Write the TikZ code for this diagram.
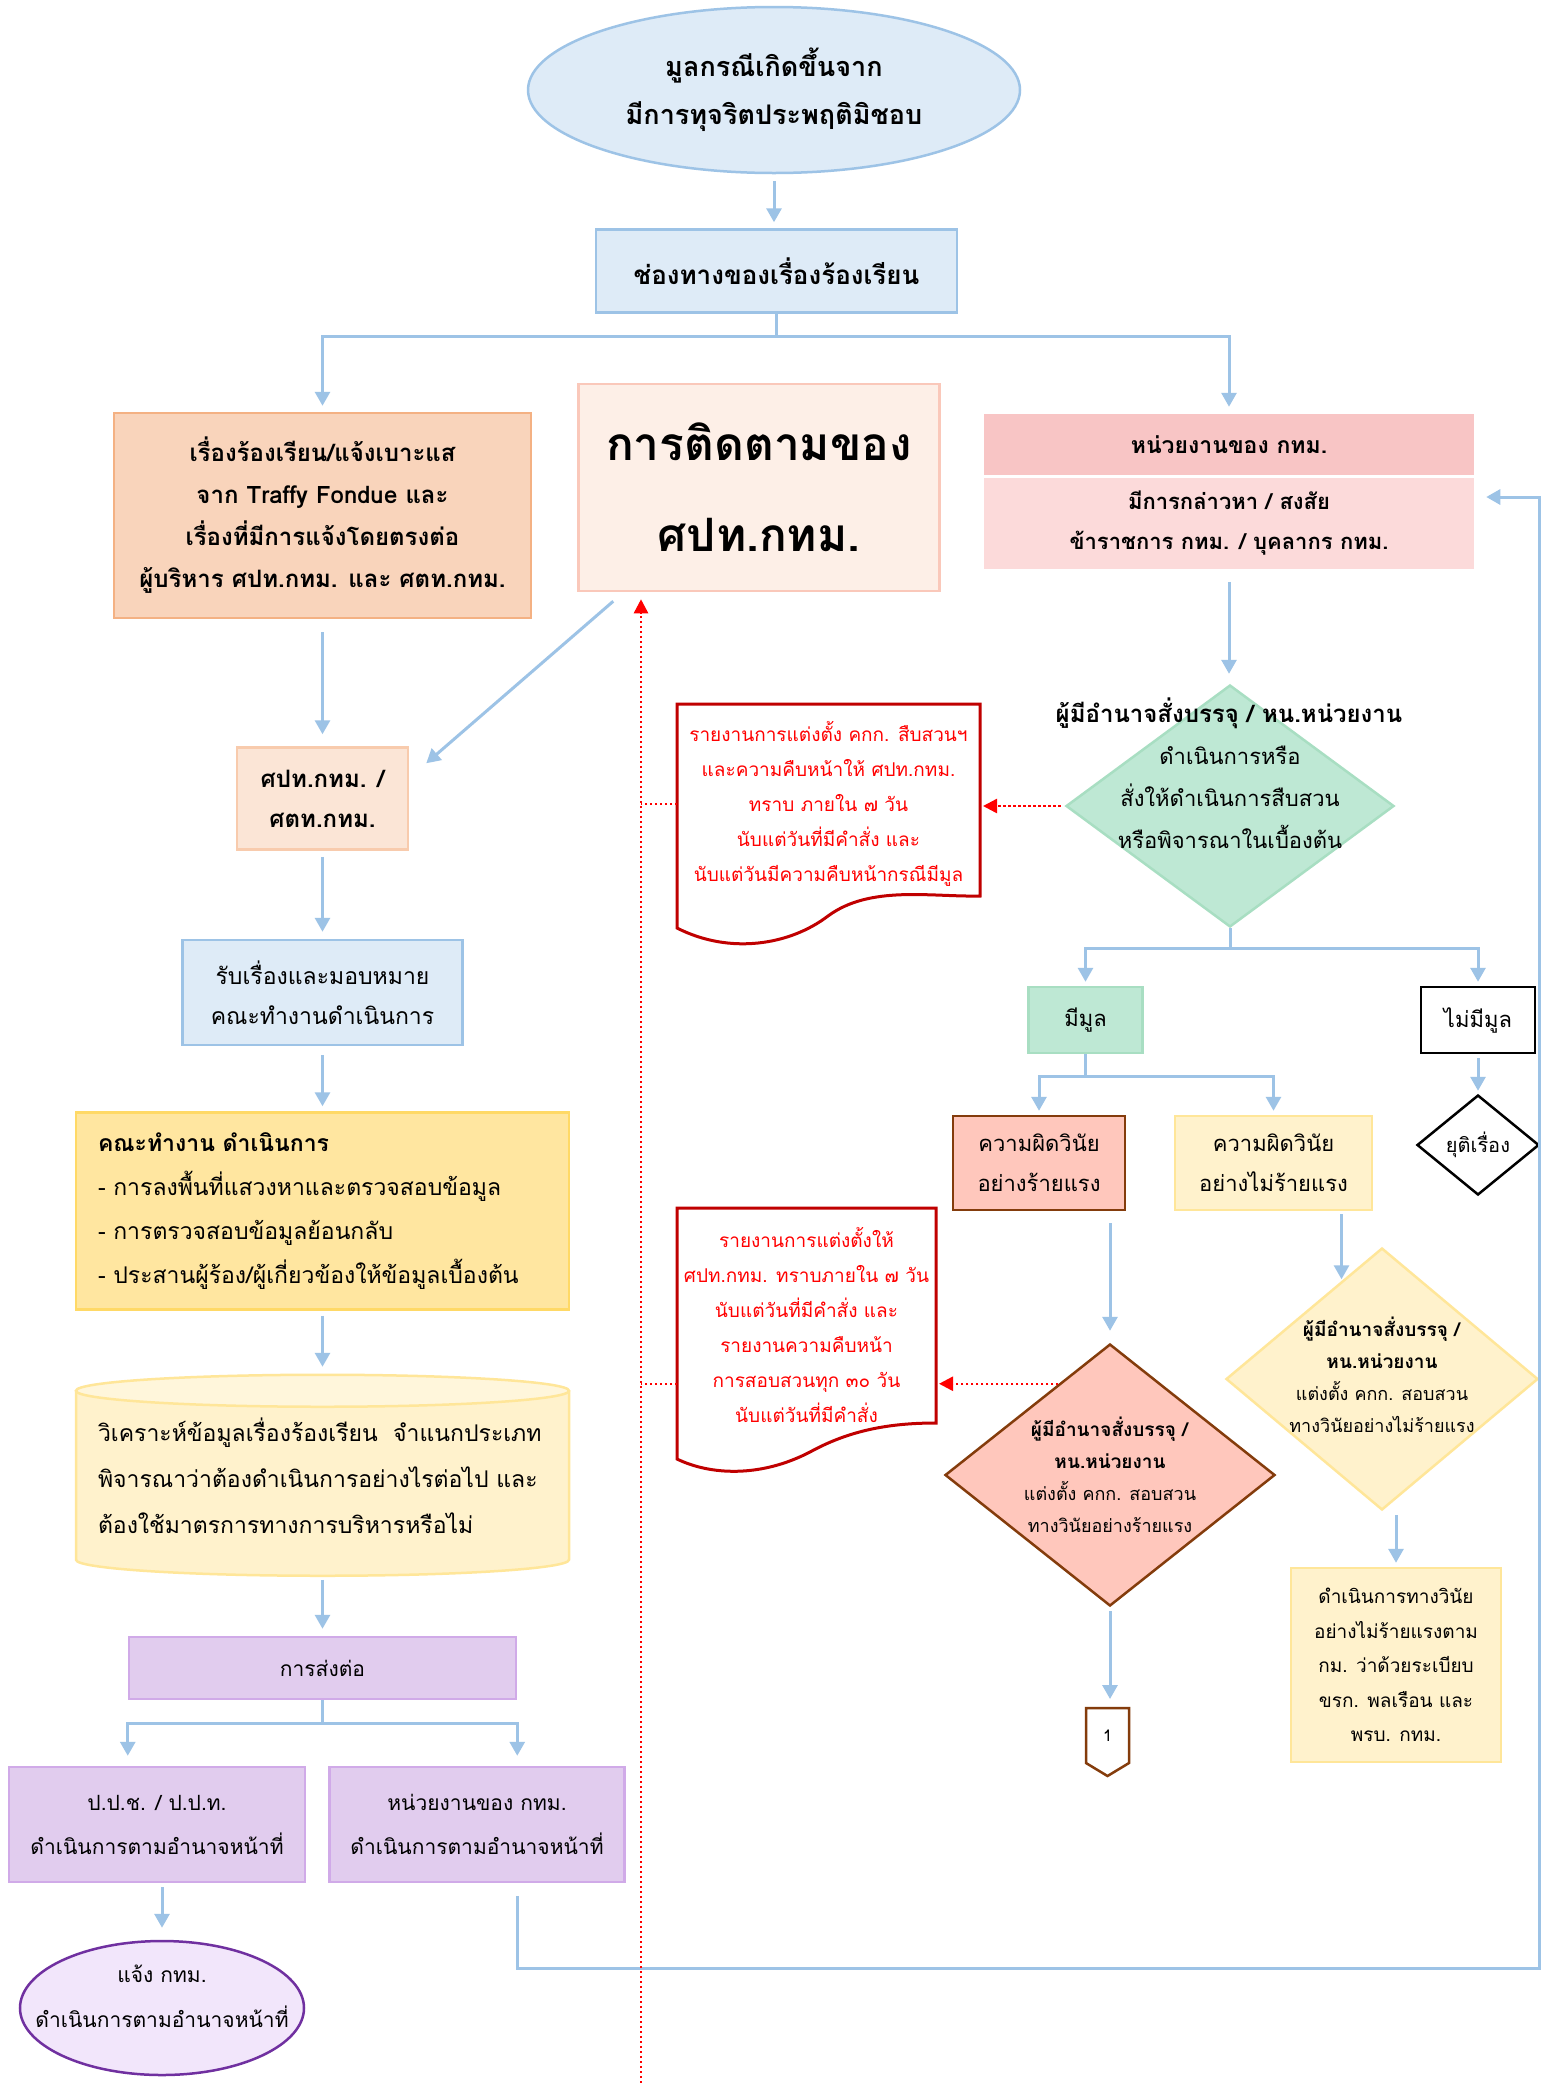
\documentclass[tikz,border=0pt]{standalone}
\usepackage{fontspec}
\setmainfont[Script=Thai]{Loma}
\usepackage{tikz}
\usetikzlibrary{shapes.geometric, arrows.meta, positioning, calc, backgrounds}
\definecolor{arrowblue}{RGB}{157,195,230}
\definecolor{skyfill}{RGB}{222,235,247}
\definecolor{peachfill}{RGB}{249,212,187}
\definecolor{peachline}{RGB}{244,177,131}
\definecolor{trackfill}{RGB}{253,239,231}
\definecolor{trackline}{RGB}{250,200,186}
\definecolor{socfill}{RGB}{251,229,214}
\definecolor{socline}{RGB}{248,203,173}
\definecolor{unithead}{RGB}{248,197,197}
\definecolor{unitbody}{RGB}{252,218,218}
\definecolor{mintfill}{RGB}{190,232,212}
\definecolor{mintline}{RGB}{168,222,194}
\definecolor{salmonfill}{RGB}{255,199,188}
\definecolor{brownline}{RGB}{132,60,12}
\definecolor{creamfill}{RGB}{255,242,204}
\definecolor{capfill}{RGB}{255,246,219}
\definecolor{creamline}{RGB}{255,230,153}
\definecolor{goldfill}{RGB}{255,230,160}
\definecolor{goldline}{RGB}{255,217,102}
\definecolor{lilacfill}{RGB}{225,204,238}
\definecolor{lilacline}{RGB}{208,170,232}
\definecolor{notifyfill}{RGB}{242,230,251}
\definecolor{notifyline}{RGB}{112,48,160}
\definecolor{docline}{RGB}{192,0,0}
\definecolor{doctext}{RGB}{255,0,0}
\newcommand{\fsz}[2]{\fontsize{#1}{#2}\selectfont}

\begin{document}
\begin{tikzpicture}[
    x=1pt, y=-1pt,
    box/.style={rectangle, draw, line width=2.5pt, align=center, inner sep=0pt},
    decision/.style={diamond, draw, line width=2.5pt, inner sep=0pt},
    arrow/.style={-{Triangle[width=15pt,length=14pt]}, line width=3pt, draw=arrowblue},
    link/.style={line width=3pt, draw=arrowblue},
    report/.style={-{Triangle[width=14pt,length=14pt]}, line width=2.5pt, draw=doctext, color=doctext, dash pattern=on 2.5pt off 2.5pt},
    reportline/.style={line width=2.5pt, draw=doctext, dash pattern=on 2.5pt off 2.5pt},
    doc/.style={rectangle, inner sep=0pt, outer sep=0pt, align=center, text=doctext, font=\fsz{19}{35}}
]
    \useasboundingbox (0,0) rectangle (1542,2083);
    \begin{scope}[on background layer]
        \fill[white] (0,0) rectangle (1542,2083);
    \end{scope}

    % top of the flow
    \node[ellipse, draw=arrowblue, fill=skyfill, line width=2.5pt, minimum width=492pt, minimum height=166pt, align=center, font=\fsz{27}{48}\bfseries] (origin) at (774,90) {มูลกรณีเกิดขึ้นจาก\\มีการทุจริตประพฤติมิชอบ};
    \node[box, draw=arrowblue, fill=skyfill, minimum width=361pt, minimum height=83pt, font=\fsz{26}{40}\bfseries] (chan) at (776.5,271) {ช่องทางของเรื่องร้องเรียน};

    % left column
    \node[box, draw=peachline, fill=peachfill, minimum width=417pt, minimum height=205pt, font=\fsz{24}{42}\bfseries] (complaint) at (322.5,515.5) {เรื่องร้องเรียน/แจ้งเบาะแส\\จาก Traffy Fondue และ\\เรื่องที่มีการแจ้งโดยตรงต่อ\\ผู้บริหาร ศปท.กทม. และ ศตท.กทม.};
    \node[box, draw=socline, fill=socfill, minimum width=171pt, minimum height=102pt, font=\fsz{24}{40}\bfseries, below=127pt of complaint] (soc) {ศปท.กทม. /\\ศตท.กทม.};
    \node[box, draw=arrowblue, fill=skyfill, minimum width=280pt, minimum height=105pt, font=\fsz{23}{40}, below=88pt of soc] (recv) {รับเรื่องและมอบหมาย\\คณะทำงานดำเนินการ};
    \node[box, draw=goldline, fill=goldfill, minimum height=197pt, text width=449pt, inner xsep=22pt, align=left, font=\fsz{23}{44}, below=65pt of recv] (team) {\textbf{คณะทำงาน ดำเนินการ}\\- การลงพื้นที่แสวงหาและตรวจสอบข้อมูล\\- การตรวจสอบข้อมูลย้อนกลับ\\- ประสานผู้ร้อง/ผู้เกี่ยวข้องให้ข้อมูลเบื้องต้น};
    \node[box, draw=none, outer sep=0pt, minimum height=201pt, text width=449pt, inner xsep=22pt, align=left, font=\fsz{23}{46}, below=64pt of team] (analysis) {วิเคราะห์ข้อมูลเรื่องร้องเรียน~~จำแนกประเภท\\พิจารณาว่าต้องดำเนินการอย่างไรต่อไป และ\\ต้องใช้มาตรการทางการบริหารหรือไม่};
    \begin{scope}[on background layer]
        \fill[creamfill] ([yshift=-16pt]analysis.north west) rectangle ([yshift=16pt]analysis.south east);
        \fill[creamfill] ([yshift=16pt]analysis.south) ellipse [x radius=246.5, y radius=16];
        \fill[capfill] ([yshift=-16pt]analysis.north) ellipse [x radius=246.5, y radius=16];
        \draw[creamline, line width=2.5pt] ([yshift=-16pt]analysis.north) ellipse [x radius=246.5, y radius=16];
        \draw[creamline, line width=2.5pt] ([yshift=-16pt]analysis.north west) -- ([yshift=16pt]analysis.south west) arc[start angle=180, end angle=0, x radius=246.5, y radius=16] -- ([yshift=-16pt]analysis.north east);
    \end{scope}
    \node[box, draw=lilacline, fill=lilacfill, minimum width=387pt, minimum height=62pt, font=\fsz{21}{40}, below=60pt of analysis] (fwd) {การส่งต่อ};
    \node[box, draw=lilacline, fill=lilacfill, minimum width=296pt, minimum height=115pt, font=\fsz{21}{44}] (ppc) at (157,1824.5) {ป.ป.ช. / ป.ป.ท.\\ดำเนินการตามอำนาจหน้าที่};
    \node[box, draw=lilacline, fill=lilacfill, minimum width=295pt, minimum height=115pt, font=\fsz{21}{44}, right=22pt of ppc] (bmaUnit) {หน่วยงานของ กทม.\\ดำเนินการตามอำนาจหน้าที่};
    \node[ellipse, draw=notifyline, fill=notifyfill, line width=2.5pt, minimum width=284pt, minimum height=134pt] (notify) at (162,2008) {};
    \node[align=center, font=\fsz{21}{45}] (notifyText) at (162,1996) {แจ้ง กทม.\\ดำเนินการตามอำนาจหน้าที่};

    % middle
    \node[box, draw=trackline, fill=trackfill, minimum width=361pt, minimum height=207pt, font=\fsz{46}{91}\bfseries] (track) at (759,487.5) {การติดตามของ\\ศปท.กทม.};
    \coordinate (trackEnd) at (641,2083);

    % right column
    \node[box, draw=none, fill=unithead, minimum width=490pt, minimum height=61pt, font=\fsz{23}{40}\bfseries] (unitHead) at (1229,444.5) {หน่วยงานของ กทม.};
    \node[box, draw=none, fill=unitbody, minimum width=490pt, minimum height=91pt, font=\fsz{22}{40}\bfseries, below=0pt of unitHead] (unitBody) {มีการกล่าวหา / สงสัย\\ข้าราชการ กทม. / บุคลากร กทม.};
    \node[decision, draw=mintline, fill=mintfill, minimum width=328pt, minimum height=242pt] (decide) at (1230,806) {};
    \node[font=\fsz{24}{40}\bfseries] (decideHead) at (1229,713) {ผู้มีอำนาจสั่งบรรจุ / หน.หน่วยงาน};
    \node[align=center, font=\fsz{22}{42}] (decideText) at (1230,797) {ดำเนินการหรือ\\สั่งให้ดำเนินการสืบสวน\\หรือพิจารณาในเบื้องต้น};

    \node[doc, minimum width=303pt, minimum height=184pt] (report1) at (828.5,804) {รายงานการแต่งตั้ง คกก. สืบสวนฯ\\และความคืบหน้าให้ ศปท.กทม.\\ทราบ ภายใน ๗ วัน\\นับแต่วันที่มีคำสั่ง และ\\นับแต่วันมีความคืบหน้ากรณีมีมูล};
    \draw[docline, line width=3pt] ([yshift=8pt]report1.north west) -- ([yshift=8pt]report1.north east) -- (report1.south east)
        .. controls (930,897) and (870,885) .. (828,916) .. controls (790,945) and (730,955) .. (677,928) -- cycle;

    \node[box, draw=mintline, fill=mintfill, minimum width=114pt, minimum height=66pt, font=\fsz{22}{40}] (guilty) at (1085.5,1020) {มีมูล};
    \node[box, draw=black, fill=white, minimum width=114pt, minimum height=66pt, font=\fsz{22}{40}] (noguilty) at (1478,1020) {ไม่มีมูล};
    \node[decision, draw=black, fill=white, minimum width=122pt, minimum height=100pt, font=\fsz{20}{30}] (stop) at (1478,1145) {ยุติเรื่อง};
    \node[box, draw=brownline, fill=salmonfill, minimum width=172pt, minimum height=94pt, font=\fsz{22}{40}] (severe) at (1039,1163) {ความผิดวินัย\\อย่างร้ายแรง};
    \node[box, draw=creamline, fill=creamfill, minimum width=197pt, minimum height=94pt, font=\fsz{22}{40}] (mild) at (1273.5,1163) {ความผิดวินัย\\อย่างไม่ร้ายแรง};

    \node[decision, draw=brownline, fill=salmonfill, minimum width=330pt, minimum height=262pt] (sevDia) at (1110,1475) {};
    \node[align=center, font=\fsz{18}{32}] (sevText) at (1110,1475) {\textbf{\fsz{19}{32}ผู้มีอำนาจสั่งบรรจุ /}\\\textbf{\fsz{19}{32}หน.หน่วยงาน}\\แต่งตั้ง คกก. สอบสวน\\ทางวินัยอย่างร้ายแรง};
    \node[decision, draw=creamline, fill=creamfill, minimum width=312pt, minimum height=262pt] (yelDia) at (1382,1379) {};
    \node[align=center, font=\fsz{18}{32}] (yelText) at (1382,1375) {\textbf{\fsz{19}{32}ผู้มีอำนาจสั่งบรรจุ /}\\\textbf{\fsz{19}{32}หน.หน่วยงาน}\\แต่งตั้ง คกก. สอบสวน\\ทางวินัยอย่างไม่ร้ายแรง};
    \node[box, draw=creamline, fill=creamfill, minimum width=210pt, minimum height=194pt, font=\fsz{19}{34.5}] (action) at (1396,1665) {ดำเนินการทางวินัย\\อย่างไม่ร้ายแรงตาม\\กม. ว่าด้วยระเบียบ\\ขรก. พลเรือน และ\\พรบ. กทม.};

    \node[doc, minimum width=259pt, minimum height=196pt] (report2) at (806.5,1325) {รายงานการแต่งตั้งให้\\ศปท.กทม. ทราบภายใน ๗ วัน\\นับแต่วันที่มีคำสั่ง และ\\รายงานความคืบหน้า\\การสอบสวนทุก ๓๐ วัน\\นับแต่วันที่มีคำสั่ง};
    \draw[docline, line width=3pt] ([yshift=19pt]report2.north west) -- ([yshift=19pt]report2.north east) -- (report2.south east)
        .. controls (890,1423) and (850,1430) .. (810,1452) .. controls (760,1478) and (710,1475) .. (677,1459) -- cycle;

    \node[rectangle, inner sep=0pt, outer sep=0pt, minimum width=43pt, minimum height=55pt, font=\fsz{16}{20}] (offpage) at (1107.5,1735.5) {1};
    \draw[brownline, line width=2.5pt] (offpage.north west) -- (offpage.south west) -- ([yshift=-13pt]offpage.south) -- (offpage.south east) -- (offpage.north east) -- cycle;

    % blue connectors
    \draw[arrow, shorten <=7pt, shorten >=6pt] (origin.south) -- (origin.south |- chan.north);
    \draw[link] (chan.south) -- ++(0,23) coordinate (split);
    \draw[arrow, shorten >=6pt] (split) -| (complaint.north);
    \draw[arrow, shorten >=6pt] (split) -| (unitHead.north);
    \draw[arrow, shorten <=13pt, shorten >=12pt] (complaint) -- (soc);
    \draw[arrow] ([xshift=36pt,yshift=-9pt]track.south west) -- ([xshift=17pt,yshift=-17pt]soc.north east);
    \draw[arrow, shorten <=6pt, shorten >=7pt] (soc) -- (recv);
    \draw[arrow, shorten <=9pt, shorten >=5pt] (recv) -- (team);
    \draw[arrow, shorten <=5pt, shorten >=8pt] (team) -- (analysis);
    \draw[arrow, shorten <=4pt, shorten >=7pt] (analysis) -- (fwd);
    \draw[link] (fwd.south) -- ++(0,23) coordinate (fork);
    \draw[arrow, shorten >=10pt] (fork) -| (fwd.south west |- ppc.north);
    \draw[arrow, shorten >=10pt] (fork) -| (fwd.south east |- bmaUnit.north);
    \draw[arrow, shorten <=4pt, shorten >=12pt] (notify.north |- ppc.south) -- (notify.north);
    \draw[arrow, shorten <=13pt, shorten >=11pt] (bmaUnit.south -| fwd.east) |- (1539,1968) |- ([yshift=26pt]unitBody.east);

    \draw[arrow, shorten <=12pt, shorten >=10pt] (unitBody.south) -- (unitBody.south |- decide.north);
    \draw[link] (decide.south) -- ++(0,20) coordinate (verdict);
    \draw[arrow, shorten >=4pt] (verdict) -| (guilty.north);
    \draw[arrow, shorten >=4pt] (verdict) -| (noguilty.north);
    \draw[arrow, shorten <=4pt, shorten >=3pt] (noguilty) -- (stop);
    \draw[link] (guilty.south) -- ++(0,22) coordinate (grade);
    \draw[arrow, shorten >=4pt] (grade) -| (severe.north);
    \draw[arrow, shorten >=4pt] (grade) -| (mild.north);
    \draw[arrow, shorten <=12pt, shorten >=12pt] (sevDia.north |- severe.south) -- (sevDia.north);
    \draw[arrow, shorten <=3pt] ([xshift=68pt]mild.south) -- +(0,68);
    \draw[arrow, shorten <=4pt, shorten >=4pt] (action.north |- yelDia.south) -- (action.north);
    \draw[arrow, shorten <=4pt, shorten >=9pt] (sevDia.south) -- (sevDia.south |- offpage.north);

    % red reporting lines
    \draw[report, shorten <=4pt, shorten >=3pt] (decide.west) -- (decide.west -| report1.east);
    \draw[report, shorten >=3pt] ($(sevDia.north)!0.31!(sevDia.west)$) coordinate (sevTap) -- (sevTap -| report2.east);
    \draw[reportline] (report1.west) -- (report1.west -| trackEnd);
    \draw[reportline] (sevTap -| report2.west) -- (sevTap -| trackEnd);
    \draw[report, shorten >=7pt] (trackEnd) -- (trackEnd |- track.south);
\end{tikzpicture}
\end{document}
